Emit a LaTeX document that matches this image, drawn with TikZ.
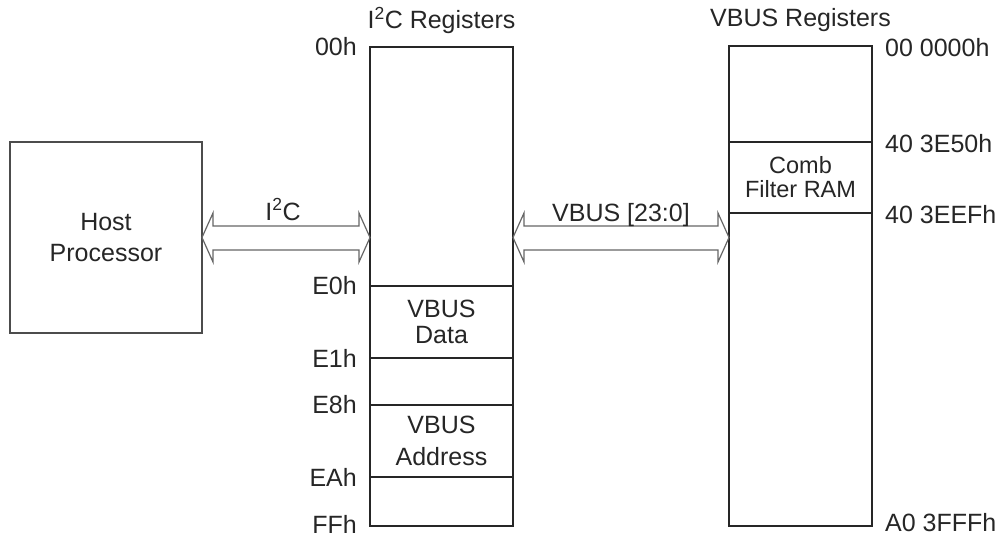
\documentclass[tikz,border=0pt]{standalone}
\usepackage{fontspec}
\setmainfont{Liberation Sans}
\usetikzlibrary{calc}

\tikzset{
	regbox/.style={draw=black!85, line width=1.6pt, inner sep=0pt, outer sep=0pt},
	regline/.style={draw=black!85, line width=1.6pt},
	hostbox/.style={draw=black!70, line width=1.4pt, inner sep=0pt, outer sep=0pt, align=center, font=\fontsize{25}{31}\selectfont},
	busline/.style={draw=black!60, line width=1.2pt, line join=miter},
	addrl/.style={anchor=east, inner sep=0pt, xshift=-13pt},
	addrr/.style={anchor=west, inner sep=0pt, xshift=13pt, yshift=-2pt},
	regtext/.style={align=center, inner sep=0pt},
}

% double headed bus arrow from #1 to #2
\newcommand{\busarrow}[2]{%
	\draw[busline] (#1) -- ++(11,-24.5) -- ++(0,13) -- ($(#2)+(-11,-11.5)$) -- ++(0,-13) -- (#2)
		-- ++(-11,24.5) -- ++(0,-12) -- ($(#1)+(11,12.5)$) -- ++(0,12) -- cycle;}

\begin{document}
\begin{tikzpicture}[x=1pt, y=-1pt, font=\fontsize{25}{30}\selectfont, text=black!85]
		\useasboundingbox (0,0) rectangle (1003,535);
		\node[hostbox, minimum width=192pt, minimum height=191pt] (host) at (106,237.5) {Host\\Processor};
		\node[regbox, minimum width=143pt, minimum height=479pt] (i2creg) at (441.5,286.5) {};
		\node[regbox, minimum width=143pt, minimum height=480pt] (vbusreg) at (800.5,286) {};
		\node[anchor=base] (i2ctitle) at (441.5,29) {I\textsuperscript{2}C Registers};
		\node[anchor=base] (vbustitle) at (800.5,27) {VBUS Registers};
		\foreach \y/\lbl in {286/E0h,358/E1h,405/E8h,477/EAh}{
			\draw[regline] (370,\y) -- (513,\y);
			\node[addrl] at (370,\y) {\lbl};
		}
		\node[addrl] at (i2creg.north west) {00h};
		\node[addrl, yshift=2pt] at (i2creg.south west) {FFh};
		\foreach \y/\lbl in {142/40 3E50h,213/40 3EEFh}{
			\draw[regline] (729,\y) -- (872,\y);
			\node[addrr] at (872,\y) {\lbl};
		}
		\node[addrr] at (vbusreg.north east) {00 0000h};
		\node[addrr, yshift=5pt] at (vbusreg.south east) {A0 3FFFh};
		\node[regtext, font=\fontsize{25}{26}\selectfont] at (441.5,322) {VBUS\\Data};
		\node[regtext, font=\fontsize{25}{32}\selectfont] at (441.5,441) {VBUS\\Address};
		\node[regtext, font=\fontsize{23.5}{24}\selectfont] at (800.5,177.5) {Comb\\Filter RAM};
		\coordinate (hoste) at (host.east);
		\coordinate (i2cw) at (i2creg.west |- host.east);
		\coordinate (i2ce) at (i2creg.east |- host.east);
		\coordinate (vbusw) at (vbusreg.west |- host.east);
		\busarrow{hoste}{i2cw}
		\busarrow{i2ce}{vbusw}
		\node[anchor=base] at ($(hoste)!0.5!(i2cw)+(-3,-17.5)$) {I\textsuperscript{2}C};
		\node[anchor=base] at ($(i2ce)!0.5!(vbusw)+(0,-16.5)$) {VBUS [23:0]};
	\end{tikzpicture}
\end{document}
